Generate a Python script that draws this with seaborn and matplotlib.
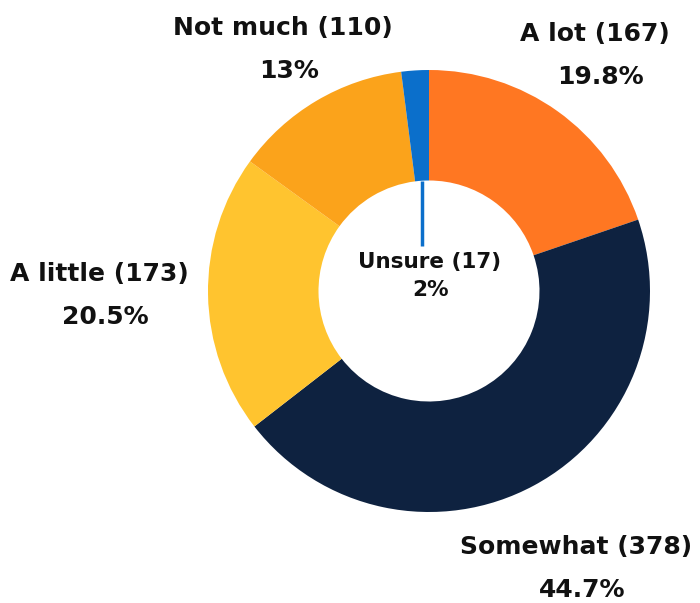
import numpy as np
import matplotlib
matplotlib.use("Agg")
import matplotlib.pyplot as plt
import seaborn as sns

# data
categories = ["A lot", "Somewhat", "A little", "Not much", "Unsure"]
counts = [167, 378, 173, 110, 17]
percent_labels = ["19.8%", "44.7%", "20.5%", "13%", "2%"]
colors = ["#FF7722", "#0E2240", "#FFC42F", "#FBA31B", "#0B6FCB"]

sns.set_theme(style="white")
plt.rcParams["font.family"] = ["DejaVu Sans"]

fig = plt.figure(figsize=(7, 6.03), dpi=100)
ax = fig.add_axes([0, 0, 1, 1])

# canvas in pixel units, y measured upward
H = 603
cx, cy, r = 429, H - 291, 221
wedges, _ = ax.pie(counts, colors=colors, startangle=90, counterclock=False,
                   center=(cx, cy), radius=r, frame=True,
                   wedgeprops=dict(width=r * 0.5, linewidth=0))
ax.set_xlim(0, 700)
ax.set_ylim(0, H)
ax.axis("off")

# label distance factors along the slice mid angle
dist = [1.31, 1.43, 1.48, 1.27]
for i, w in enumerate(wedges[:4]):
    ang = np.deg2rad((w.theta1 + w.theta2) / 2)
    x = cx + dist[i] * r * np.cos(ang)
    y = cy + dist[i] * r * np.sin(ang)
    ax.text(x - 3, y + 22, f"{categories[i]} ({counts[i]})", ha="center", va="center",
            fontsize=18, fontweight="bold", color="#111111")
    ax.text(x + 3, y - 21, percent_labels[i], ha="center", va="center",
            fontsize=18, fontweight="bold", color="#111111")

# small slice: leader line into the hole
w = wedges[4]
ang = np.deg2rad((w.theta1 + w.theta2) / 2)
x0 = cx + r * 0.5 * np.cos(ang)
y0 = cy + r * 0.5 * np.sin(ang)
ax.plot([x0, x0], [y0, H - 246], color=colors[4], lw=2.5, solid_capstyle="butt")
ax.text(cx + 1, H - 262, f"{categories[4]} ({counts[4]})", ha="center", va="center",
        fontsize=15.5, fontweight="bold", color="#111111")
ax.text(cx + 1, H - 290, percent_labels[4], ha="center", va="center",
        fontsize=15.5, fontweight="bold", color="#111111")

fig.savefig("out.png", dpi=100)
